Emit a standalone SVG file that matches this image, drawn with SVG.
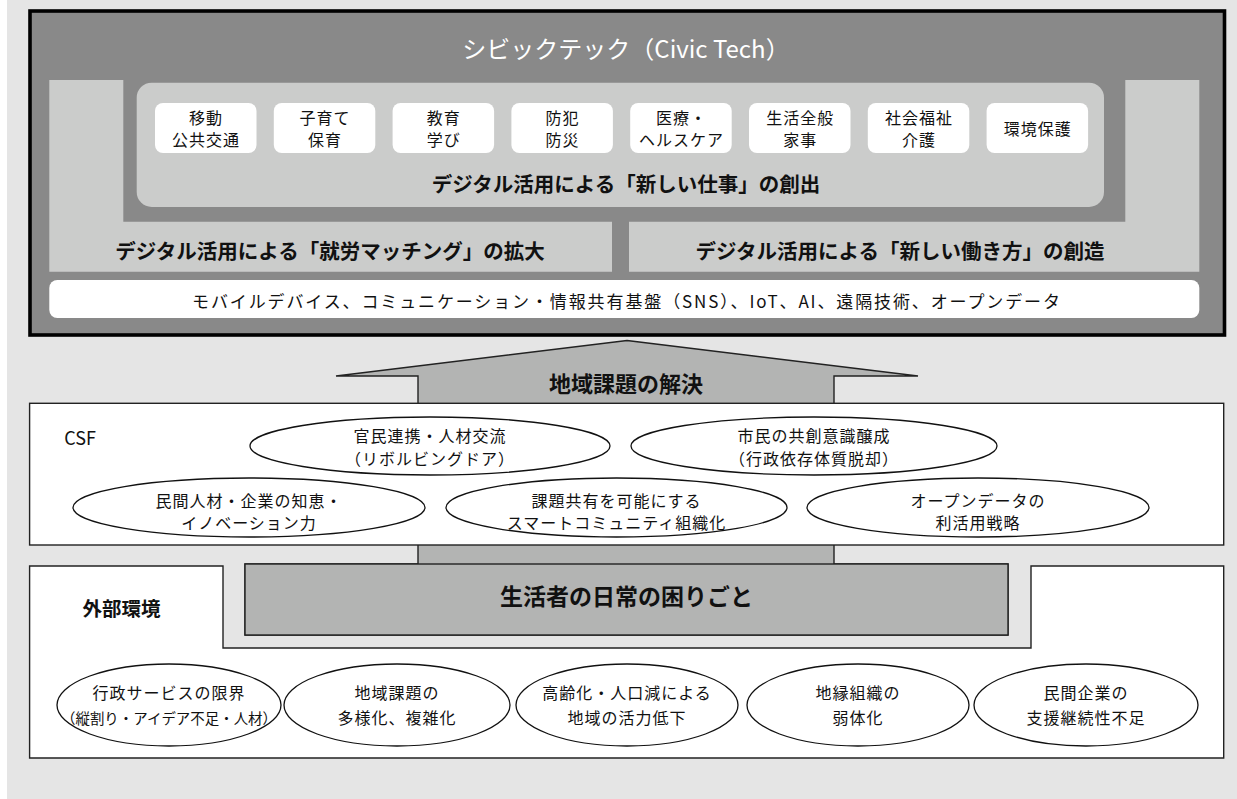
<svg xmlns="http://www.w3.org/2000/svg" width="1237" height="799" viewBox="0 0 1237 799">
<style>
text{font-family:'Noto Sans CJK JP','Noto Sans',sans-serif;fill:#111;dominant-baseline:central;text-anchor:middle}
.t17{font-size:16px;letter-spacing:1px}
.bar{font-size:20.5px;font-weight:700}
.title{font-size:24px;fill:#fff}
.tile{fill:#fff}
.panel{fill:#cbcccb}
.ell{fill:#fff;stroke:#111;stroke-width:1.3}
.box{fill:#fff;stroke:#222;stroke-width:1.4}
.big{font-weight:700}
</style>
<rect x="0" y="0" width="1237" height="799" fill="#fff"/>
<rect x="7" y="0" width="1230" height="799" fill="#e5e5e5"/>

<g id="civic-tech">
<rect x="30" y="11" width="1194.5" height="324" fill="#898989" stroke="#000" stroke-width="3.6"/>
<text class="title" x="626" y="47.5">シビックテック（Civic Tech）</text>
</g>

<g id="work-matching">
<path class="panel" d="M49.3 80H123.3V221.7H612V271.7H49.3Z"/>
<text class="bar" x="330" y="250">デジタル活用による「就労マッチング」の拡大</text>
</g>

<g id="new-workstyle">
<path class="panel" d="M1125.3 80H1199.3V271.7H629V221.7H1125.3Z"/>
<text class="bar" x="900" y="250">デジタル活用による「新しい働き方」の創造</text>
</g>

<g id="new-jobs">
<rect class="panel" x="136.7" y="82.7" width="967.3" height="124.3" rx="15"/>
<text class="bar" x="626" y="183">デジタル活用による「新しい仕事」の創出</text>
</g>

<g id="tiles">
<g id="tile-1"><rect class="tile" x="155" y="103" width="101.5" height="50" rx="8"/><text class="t17" x="206" y="117">移動</text><text class="t17" x="206" y="139">公共交通</text></g>
<g id="tile-2"><rect class="tile" x="273.8" y="103" width="101.5" height="50" rx="8"/><text class="t17" x="325" y="117">子育て</text><text class="t17" x="325" y="139">保育</text></g>
<g id="tile-3"><rect class="tile" x="392.6" y="103" width="101.5" height="50" rx="8"/><text class="t17" x="443.8" y="117">教育</text><text class="t17" x="443.8" y="139">学び</text></g>
<g id="tile-4"><rect class="tile" x="511.4" y="103" width="101.5" height="50" rx="8"/><text class="t17" x="562.6" y="117">防犯</text><text class="t17" x="562.6" y="139">防災</text></g>
<g id="tile-5"><rect class="tile" x="630.2" y="103" width="101.5" height="50" rx="8"/><text class="t17" x="681.4" y="117">医療・</text><text class="t17" x="681.4" y="139">ヘルスケア</text></g>
<g id="tile-6"><rect class="tile" x="749" y="103" width="101.5" height="50" rx="8"/><text class="t17" x="800.2" y="117">生活全般</text><text class="t17" x="800.2" y="139">家事</text></g>
<g id="tile-7"><rect class="tile" x="867.8" y="103" width="101.5" height="50" rx="8"/><text class="t17" x="919" y="117">社会福祉</text><text class="t17" x="919" y="139">介護</text></g>
<g id="tile-8"><rect class="tile" x="986.6" y="103" width="101.5" height="50" rx="8"/><text class="t17" x="1037.8" y="128">環境保護</text></g>
</g>

<g id="infrastructure">
<rect fill="#fff" x="49.3" y="280" width="1150" height="38" rx="8"/>
<text x="626" y="300" font-size="17" textLength="868" lengthAdjust="spacing">モバイルデバイス、コミュニケーション・情報共有基盤（SNS）、IoT、AI、遠隔技術、オープンデータ</text>
</g>

<g id="connectors">
<polygon points="627,340.5 918,376 834,376 834,564 1008,564 1008,635 245,635 245,564 418,564 418,376 336,376" fill="#b3b4b3" stroke="#222" stroke-width="1.4" stroke-linejoin="miter"/>
<text class="big" x="626" y="382" font-size="22">地域課題の解決</text>
</g>

<g id="external-environment">
<path class="box" d="M29.6 566H223V648H1031V566H1223.7V758H29.6Z"/>
<text class="big" x="121.5" y="607" font-size="19.5">外部環境</text>
</g>

<g id="daily-problems">
<rect x="245" y="564" width="763" height="71" fill="#b3b4b3" stroke="#222" stroke-width="1.4"/>
<text class="big" x="626.5" y="595" font-size="23">生活者の日常の困りごと</text>
</g>

<g id="csf">
<rect class="box" x="29.6" y="403.3" width="1194.1" height="141.7"/>
<text x="80" y="437" font-size="18">CSF</text>
<g id="csf-1"><ellipse class="ell" cx="430" cy="446" rx="180" ry="29"/><text class="t17" x="430" y="435">官民連携・人材交流</text><text class="t17" x="430" y="458">（リボルビングドア）</text></g>
<g id="csf-2"><ellipse class="ell" cx="814" cy="446" rx="183" ry="29"/><text class="t17" x="814" y="435">市民の共創意識醸成</text><text class="t17" x="814" y="458">（行政依存体質脱却）</text></g>
<g id="csf-3"><ellipse class="ell" cx="249" cy="507.5" rx="176" ry="29.5"/><text class="t17" x="249" y="500">民間人材・企業の知恵・</text><text class="t17" x="249" y="522">イノベーション力</text></g>
<g id="csf-4"><ellipse class="ell" cx="616.5" cy="507.5" rx="170.5" ry="29.5"/><text class="t17" x="616.5" y="500">課題共有を可能にする</text><text class="t17" x="616.5" y="522">スマートコミュニティ組織化</text></g>
<g id="csf-5"><ellipse class="ell" cx="978" cy="507.5" rx="171" ry="29.5"/><text class="t17" x="978" y="500">オープンデータの</text><text class="t17" x="978" y="522">利活用戦略</text></g>
</g>

<g id="external-factors">
<g id="ext-1"><ellipse class="ell" cx="169" cy="705" rx="112" ry="41"/><text class="t17" x="169" y="692">行政サービスの限界</text><text x="169" y="717" font-size="14.5" textLength="216" lengthAdjust="spacingAndGlyphs">（縦割り・アイデア不足・人材）</text></g>
<g id="ext-2"><ellipse class="ell" cx="397" cy="705" rx="113" ry="41"/><text class="t17" x="397" y="692">地域課題の</text><text class="t17" x="397" y="717">多様化、複雑化</text></g>
<g id="ext-3"><ellipse class="ell" cx="627" cy="705" rx="111" ry="41"/><text class="t17" x="627" y="692">高齢化・人口減による</text><text class="t17" x="627" y="717">地域の活力低下</text></g>
<g id="ext-4"><ellipse class="ell" cx="858" cy="705" rx="111" ry="41"/><text class="t17" x="858" y="692">地縁組織の</text><text class="t17" x="858" y="717">弱体化</text></g>
<g id="ext-5"><ellipse class="ell" cx="1086" cy="705" rx="112" ry="41"/><text class="t17" x="1086" y="692">民間企業の</text><text class="t17" x="1086" y="717">支援継続性不足</text></g>
</g>
</svg>
